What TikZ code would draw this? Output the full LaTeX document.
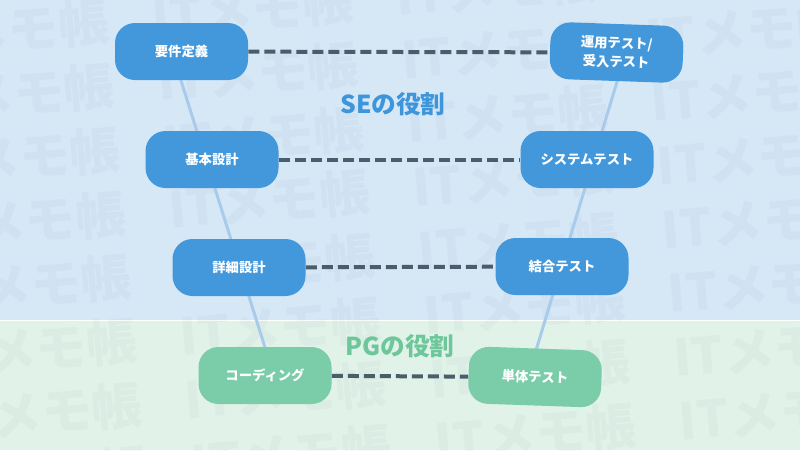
\documentclass[tikz,border=0pt]{standalone}
\usepackage{fontspec}
\setmainfont{Noto Sans CJK JP}

\definecolor{bgblau}{HTML}{D6E7F6}
\definecolor{bggruen}{HTML}{E1F2E8}
\definecolor{boxblau}{HTML}{4398DB}
\definecolor{boxgruen}{HTML}{7BCCA8}
\definecolor{titelblau}{HTML}{3D95DB}
\definecolor{titelgruen}{HTML}{6DC79B}
\definecolor{strich}{HTML}{4A5E69}
\definecolor{vblau}{HTML}{A8CBEB}

\begin{document}
\begin{tikzpicture}[x=0.75pt,y=-0.75pt,
    phase/.style={rounded corners=15pt, minimum width=99.75pt, minimum height=42.75pt,
      inner sep=0pt, align=center, text=white, font=\bfseries\fontsize{10}{14}\selectfont},
    se/.style={phase, fill=boxblau},
    pg/.style={phase, fill=boxgruen},
    verbindung/.style={draw=strich, line width=3pt, dash pattern=on 8.25pt off 3.75pt},
    vlinie/.style={draw=vblau, line width=2.25pt},
    titel/.style={font=\bfseries\fontsize{18.5}{22}\selectfont}]

    % Hintergrund
    \useasboundingbox (0,0) rectangle (800,450);
    \fill[bgblau] (0,0) rectangle (800,320);
    \fill[bggruen] (0,320) rectangle (800,450);
    \draw[white, line width=0.75pt] (0,320) -- (800,320);

    % Wasserzeichen
    \begin{scope}
        \clip (0,0) rectangle (800,450);
        \begin{scope}[shift={(662,230)}, rotate=5, transform shape]
            \foreach \j in {-4,...,1}
            {
                \foreach \k in {-4,...,4}
                {
                    \node[anchor=west, inner sep=0pt, text=black!70!blue, text opacity=0.022,
                      font=\bfseries\fontsize{38}{38}\selectfont] (wz\j\k) at (245*\j,64*\k) {ITメモ帳};
                }
            }
        \end{scope}
    \end{scope}

    % Punkte
    \coordinate (A) at (181.5,51.5);
    \coordinate (B) at (212,159.5);
    \coordinate (C) at (239,267.5);
    \coordinate (D) at (265,375.5);
    \coordinate (E) at (616.5,52.5);
    \coordinate (F) at (587,159.5);
    \coordinate (G) at (562,266.5);
    \coordinate (H) at (535,377);
    \coordinate (lo) at (172,52);
    \coordinate (lu) at (274,376);
    \coordinate (ro) at (626,52);
    \coordinate (ru) at (528,377);

    % V-Linien
    \draw[vlinie] (lo) -- (lu);
    \draw[vlinie] (ro) -- (ru);

    % Phasen
    \node[se] (anf) at (A) {要件定義};
    \node[se] (grund) at (B) {基本設計};
    \node[se] (detail) at (C) {詳細設計};
    \node[pg] (kod) at (D) {コーディング};
    \node[se, rotate=-2] (abn) at (E) {運用テスト/\\受入テスト};
    \node[se] (sys) at (F) {システムテスト};
    \node[se] (integ) at (G) {結合テスト};
    \node[pg, rotate=-2] (unit) at (H) {単体テスト};

    % Verbindungen
    \draw[verbindung] (anf) -- (abn);
    \draw[verbindung] (grund) -- (sys);
    \draw[verbindung] (detail) -- (integ);
    \draw[verbindung] (kod) -- (unit);

    \node[titel, text=titelblau] (se) at (393,104) {SEの役割};
    \node[titel, text=titelgruen] (pg) at (400,346) {PGの役割};
\end{tikzpicture}
\end{document}
